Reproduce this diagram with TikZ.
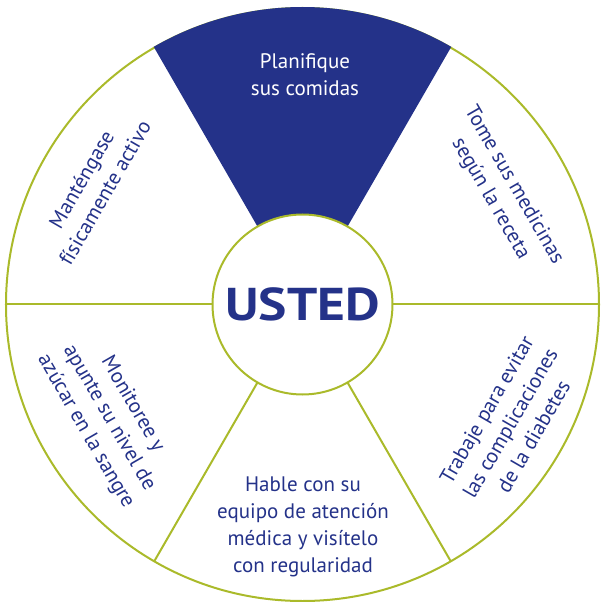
\documentclass[tikz,border=0pt]{standalone}
\usepackage{fontspec}
\setmainfont{PT Sans}
\definecolor{navy}{RGB}{36,50,137}
\definecolor{lime}{RGB}{170,186,42}
\begin{document}
\begin{tikzpicture}[x=1pt,y=1pt,
  ring/.style={draw=lime,line width=2pt},
  lbl/.style={text=navy,align=center,font=\fontsize{21}{27}\selectfont,inner sep=0pt}]
\useasboundingbox (-302.5,-297.5) rectangle (297.5,304.5);
\coordinate (c) at (0,0);
% outer circle
\draw[ring] (c) circle[radius=296.5];
% radial lines
\foreach \a in {0,180,240,300}{
  \draw[ring] (\a:90) -- (\a:296.5);
}
% top sector
\fill[navy] (60:90) -- (60:297.5) arc[start angle=60,end angle=120,radius=297.5] -- (120:90) -- cycle;
% inner circle
\node[circle,draw=lime,line width=2pt,fill=white,minimum size=180pt,inner sep=0pt,
  text=navy,font=\fontsize{46}{50}\selectfont\bfseries] (usted) at (c) {\scalebox{1.16}[1]{USTED}};
% labels
\node[lbl,text=white] (plan) at (2.5,229.5) {Planifique\\sus comidas};
\node[lbl,rotate=-60] (tome) at (199.5,112.5) {Tome sus medicinas\\según la receta};
\node[lbl,rotate=60] (mant) at (-209.5,118.5) {Manténgase\\físicamente activo};
\node[lbl,rotate=-60] (moni) at (-193.5,-113.5) {Monitoree y\\apunte su nivel de\\azúcar en la sangre};
\node[lbl,rotate=60] (trab) at (207.5,-118.5) {Trabaje para evitar\\las complicaciones\\de la diabetes};
\node[lbl] (habl) at (0.5,-222.5) {Hable con su\\equipo de atención\\médica y visítelo\\con regularidad};
\end{tikzpicture}
\end{document}
